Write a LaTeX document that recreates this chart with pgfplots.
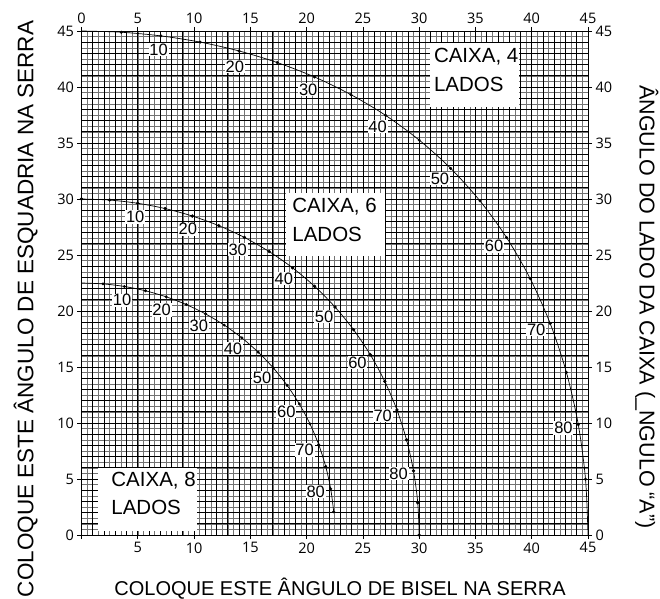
\documentclass[border=0pt]{standalone}
\usepackage{pgfplots}
\pgfplotsset{compat=1.18}
\usepackage{fontspec}
\setmainfont{Liberation Sans}
\newfontfamily\tickfont{Open Sans}
\begin{document}
\begin{tikzpicture}
\tikzset{lab/.style={fill=white, inner sep=0.8bp, font=\fontsize{16.5bp}{18bp}\selectfont},
 boxt/.style={anchor=north west, inner sep=0pt, align=left, font=\fontsize{20.5bp}{28.5bp}\selectfont}}
\begin{axis}[
  scale only axis, width=506.5bp, height=504bp,
  xmin=0,xmax=45,ymin=0,ymax=45,
  xtick={0,5,...,45}, ytick={0,5,...,45},
  xticklabels={,5,10,15,20,25,30,35,40,45},
  minor xtick={0,0.5,...,45}, minor ytick={0,0.5,...,45},
  extra x ticks={0,1,...,45}, extra y ticks={0,1,...,45},
  extra tick style={grid=major, major tick length=0pt, xticklabel={}, yticklabel={}},
  grid=both,
  major grid style={black, line width=0.7bp},
  minor grid style={black!55, line width=0.55bp},
  minor tick length=0pt,
  major tick length=4bp,
  tick align=outside,
  tick style={black, line width=0.6bp},
  axis line style={black, line width=0.9bp},
  ticklabel style={font=\tickfont\fontsize{14.5bp}{16bp}\selectfont},
  /pgf/number format/assume math mode=true,
  clip=false,
]
% 4 sides
\addplot[black, line width=0.7bp, smooth] coordinates {
(0,45) (3.533,44.891) (7.053,44.562) (10.545,44.008) (13.995,43.219) (17.388,42.184) (20.705,40.893) (23.928,39.322) (27.034,37.456) (30,35.264) (32.797,32.737) (35.396,29.838) (37.761,26.565) (39.854,22.909) (41.643,18.880) (43.084,14.511) (44.138,9.851) (44.780,4.981) (45,0)};
\addplot[black, only marks, mark=*, mark size=1.3bp] coordinates {
(3.533,44.891) (7.053,44.562) (10.545,44.008) (13.995,43.219) (17.388,42.184) (20.705,40.893) (23.928,39.322) (27.034,37.456) (30,35.264) (32.797,32.737) (35.396,29.838) (37.761,26.565) (39.854,22.909) (41.643,18.880) (43.084,14.511) (44.138,9.851) (44.780,4.981)};
% 6 sides
\addplot[black, line width=0.7bp, smooth, mark=*, mark size=1.3bp] coordinates {
(0,30) (2.498,29.905) (4.981,29.620) (7.435,29.146) (9.846,28.479) (12.199,27.620) (14.478,26.565) (16.666,25.310) (18.747,23.858) (20.705,22.208) (22.521,20.359) (24.177,18.320) (25.659,16.102) (26.946,13.710) (28.024,11.170) (28.877,8.498) (29.497,5.725) (29.874,2.881) (30,0)};
% 8 sides
\addplot[black, line width=0.7bp, smooth] coordinates {
(0,22.5) (1.911,22.421) (3.810,22.190) (5.684,21.805) (7.521,21.266) (9.307,20.575) (11.031,19.733) (12.680,18.741) (14.240,17.603) (15.700,16.323) (17.046,14.909) (18.268,13.364) (19.354,11.700) (20.295,9.929) (21.075,8.063) (21.693,6.120) (22.141,4.114) (22.410,2.068)};
\addplot[black, only marks, mark=*, mark size=1.3bp] coordinates {
(1.911,22.421) (3.810,22.190) (5.684,21.805) (7.521,21.266) (9.307,20.575) (11.031,19.733) (12.680,18.741) (14.240,17.603) (15.700,16.323) (17.046,14.909) (18.268,13.364) (19.354,11.700) (20.295,9.929) (21.075,8.063) (21.693,6.120) (22.141,4.114) (22.410,2.068)};
% labels 4
\node[lab] at (axis cs:6.85,43.32) {10};
\node[lab] at (axis cs:13.62,41.81) {20};
\node[lab] at (axis cs:20.14,39.77) {30};
\node[lab] at (axis cs:26.30,36.45) {40};
\node[lab] at (axis cs:31.85,31.80) {50};
\node[lab] at (axis cs:36.65,25.80) {60};
\node[lab] at (axis cs:40.40,18.33) {70};
\node[lab] at (axis cs:42.82,9.56) {80};
% labels 6
\node[lab] at (axis cs:4.77,28.39) {10};
\node[lab] at (axis cs:9.44,27.30) {20};
\node[lab] at (axis cs:13.88,25.47) {30};
\node[lab] at (axis cs:17.98,22.88) {40};
\node[lab] at (axis cs:21.55,19.48) {50};
\node[lab] at (axis cs:24.52,15.40) {60};
\node[lab] at (axis cs:26.76,10.68) {70};
\node[lab] at (axis cs:28.17,5.47) {80};
% labels 8
\node[lab] at (axis cs:3.60,20.96) {10};
\node[lab] at (axis cs:7.11,20.10) {20};
\node[lab] at (axis cs:10.42,18.64) {30};
\node[lab] at (axis cs:13.46,16.63) {40};
\node[lab] at (axis cs:16.05,14.04) {50};
\node[lab] at (axis cs:18.20,11.02) {60};
\node[lab] at (axis cs:19.82,7.59) {70};
\node[lab] at (axis cs:20.81,3.86) {80};
% boxes
\fill[white] (axis cs:30.95,38.2) rectangle (axis cs:38.9,43.93);
\node[boxt] at (axis cs:31.3,43.46) {CAIXA, 4\\LADOS};
\fill[white] (axis cs:18.2,24.9) rectangle (axis cs:27.0,30.5);
\node[boxt] at (axis cs:18.72,30.06) {CAIXA, 6\\LADOS};
\fill[white] (axis cs:1.49,0.33) rectangle (axis cs:10.28,5.96);
\node[boxt] at (axis cs:2.64,5.65) {CAIXA, 8\\LADOS};
\end{axis}
\begin{axis}[
  scale only axis, width=506.5bp, height=504bp,
  xmin=0,xmax=45,ymin=0,ymax=45,
  axis x line*=top, axis y line*=right,
  xtick={0,5,...,45}, ytick={0,5,...,45},
  major tick length=4bp, tick align=outside,
  tick style={draw=none}, axis line style={draw=none},
  ticklabel style={font=\tickfont\fontsize{14.5bp}{16bp}\selectfont},
  /pgf/number format/assume math mode=true,
]
\end{axis}
\node[rotate=90, anchor=base, font=\fontsize{22.5bp}{24bp}\selectfont] at (-48bp,226bp) {COLOQUE ESTE ÂNGULO DE ESQUADRIA NA SERRA};
\node[rotate=-90, anchor=base, font=\fontsize{21.5bp}{24bp}\selectfont] at (558bp,228bp) {ÂNGULO DO LADO DA CAIXA (\_NGULO “A”)};
\node[anchor=base, font=\fontsize{20bp}{22bp}\selectfont] at (258.5bp,-60bp) {COLOQUE ESTE ÂNGULO DE BISEL NA SERRA};
\pgfresetboundingbox
\path[use as bounding box] (-81.5bp,-64bp) rectangle (578.5bp,535bp);
\end{tikzpicture}
\end{document}
